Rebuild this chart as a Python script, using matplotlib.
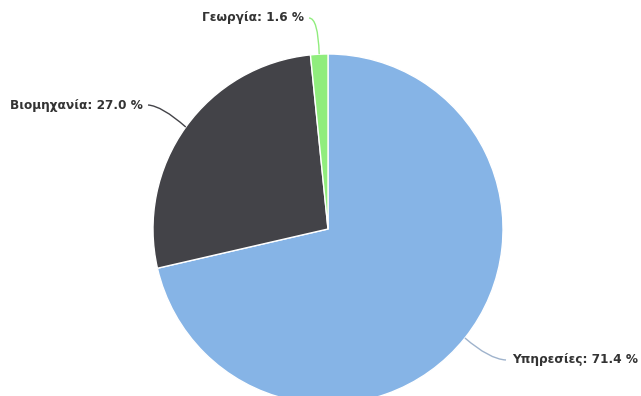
import numpy as np
import matplotlib
matplotlib.use('Agg')
import matplotlib.pyplot as plt
from matplotlib.path import Path
from matplotlib.patches import PathPatch

# Sector shares (%)
sectors = ['Υπηρεσίες', 'Βιομηχανία', 'Γεωργία']
shares = [71.4, 27.0, 1.6]
colors = ['#86b4e6', '#434348', '#90ed7d']
connector_colors = ['#9fb3cc', '#434348', '#90ed7d']

W, H = 641, 396
fig = plt.figure(figsize=(W / 100, H / 100), dpi=100)
ax = fig.add_axes([0, 0, 1, 1])

cx, cy, r = 328, H - 229, 175
wedges, _ = ax.pie(shares, colors=colors, startangle=90, counterclock=False,
                   center=(cx, cy), radius=r, frame=True,
                   wedgeprops=dict(edgecolor='white', linewidth=1))
ax.set_xlim(0, W)
ax.set_ylim(0, H)
ax.set_aspect('equal')
ax.axis('off')

# label anchor (pixel coords, y from top), alignment
label_pos = {
    'Υπηρεσίες': (512, 360, 'left'),
    'Βιομηχανία': (143, 105, 'right'),
    'Γεωργία': (304, 18, 'right'),
}

for w, name, val, ccol in zip(wedges, sectors, shares, connector_colors):
    mid = np.deg2rad((w.theta1 + w.theta2) / 2)
    x0 = cx + r * np.cos(mid)
    y0 = cy + r * np.sin(mid)
    lx, ly, ha = label_pos[name]
    ly = H - ly
    end_x = lx + 5 if ha == 'right' else lx - 6
    # bend a bit outside the rim, then curve into the label
    ex = cx + (r + 22) * np.cos(mid)
    ey = cy + (r + 22) * np.sin(mid)
    if abs(np.sin(mid)) > 0.9:
        ctrl = (ex, ly)
    else:
        ctrl = (ex + (end_x - ex) * 0.3, ey + (ly - ey) * 0.9)
    path = Path([(x0, y0), ctrl, (end_x, ly)], [Path.MOVETO, Path.CURVE3, Path.CURVE3])
    ax.add_patch(PathPatch(path, fill=False, edgecolor=ccol, linewidth=1.0, clip_on=False))
    ax.text(lx, ly, f'{name}: {val:.1f} %', ha=ha, va='center',
            fontsize=8.7, fontweight='bold', color='#333333', family='DejaVu Sans')

fig.savefig('out.png', dpi=100)
